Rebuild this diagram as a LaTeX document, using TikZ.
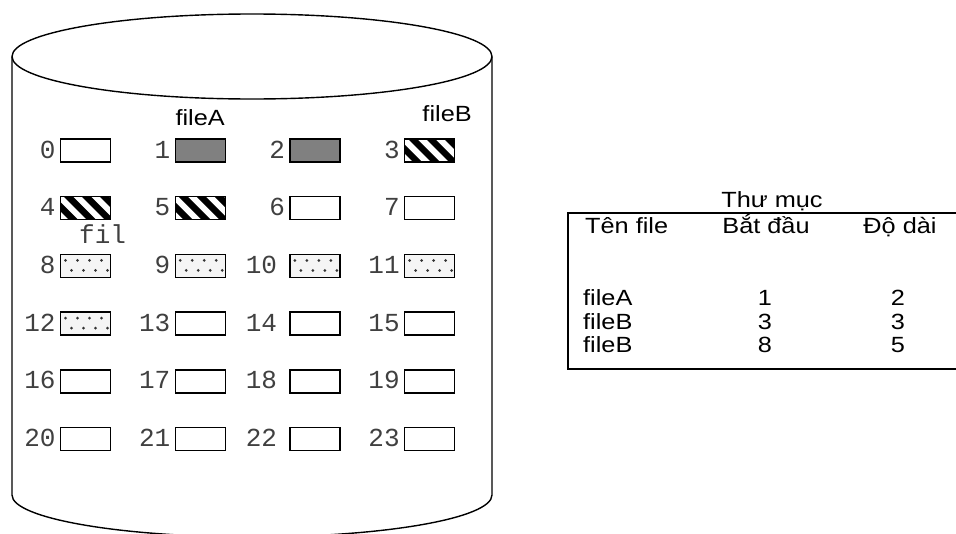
\documentclass[tikz,border=0pt]{standalone}
\usepackage{fontspec}
\newfontfamily\lblfont{Liberation Sans}[FakeStretch=1.15]
\newfontfamily\numfont{Liberation Mono}
\usetikzlibrary{positioning}

\begin{document}
\begin{tikzpicture}[x=1pt, y=1pt,
    rim/.style={line width=1.4pt},
    blk/.style={draw, line width=1.4pt, minimum width=50pt, minimum height=23pt, inner sep=0pt, fill=white},
    free/.style={},
    fileA/.style={fill=black!50},
    fileB/.style={path picture={
        \foreach \k in {-2,...,3}
            \draw[line width=6.5pt] ([xshift=\k*18pt, yshift=8pt]path picture bounding box.north west) -- ++(40pt,-40pt);}},
    fileC/.style={fill=black!4, path picture={
        \foreach \k in {0,...,4} {
            \fill[black!80] ([xshift=5pt+\k*12pt, yshift=-6pt]path picture bounding box.north west) circle (1.5pt);
            \fill[black!80] ([xshift=11pt+\k*12pt, yshift=-16pt]path picture bounding box.north west) circle (1.5pt);
        }}},
    num/.style={font=\numfont\fontsize{26}{28}\selectfont, text=black!75, inner sep=0pt, anchor=base east},
    lbl/.style={font=\lblfont\fontsize{22}{25}\selectfont, inner sep=0pt, anchor=base}
]
\useasboundingbox (0,0) rectangle (956,-533);
\clip (0,0) rectangle (956,-533);

% disk outline
\draw[rim] (252,-56.5) ellipse [x radius=240pt, y radius=42.5pt];
\draw[rim] (12,-56.5) -- (12,-495) arc[start angle=180, end angle=360, x radius=240pt, y radius=42pt] -- (492,-56.5);

% blocks 0..23, 4 per row
\foreach \i/\kind in {0/free,1/fileA,2/fileA,3/fileB,4/fileB,5/fileB,6/free,7/free,
                      8/fileC,9/fileC,10/fileC,11/fileC,12/fileC,13/free,14/free,15/free,
                      16/free,17/free,18/free,19/free,20/free,21/free,22/free,23/free} {
    \pgfmathtruncatemacro{\c}{mod(\i,4)}
    \pgfmathtruncatemacro{\r}{div(\i,4)}
    \pgfmathsetmacro{\x}{85.5+\c*114.7}
    \pgfmathsetmacro{\y}{-150.5-\r*57.7}
    \pgfmathsetmacro{\gap}{(\c==2 && \i>9) ? 12 : 4}
    \node[blk, \kind] (b\i) at (\x,\y) {};
    \node[num] (n\i) at ([xshift=-\gap pt, yshift=-7.5pt]b\i.west) {\i};
}

% file names on the disk
\node[lbl, above=12pt of b1] (fa) {fileA};
\node[lbl, above=16.8pt of b3, xshift=17.5pt] (fb) {fileB};
\node[num, anchor=base west] (fc) at (79,-243) {fil};

% directory table
\node[lbl] (title) at (772,-207) {Thư mục};
\draw[line width=1.6pt] (956,-213) -- (568,-213) -- (568,-369) -- (956,-369);
\node[lbl, anchor=base west] (hname) at (585,-233) {Tên file};
\node[lbl] (hstart) at (766,-233) {Bắt đầu};
\node[lbl] (hlen) at (900,-233) {Độ dài};

\node[lbl, anchor=base west] (r1name) at (583,-305) {fileA};
\node[lbl] (r1start) at (765,-305) {1};
\node[lbl] (r1len) at (898,-305) {2};
\node[lbl, anchor=base west] (r2name) at (583,-329) {fileB};
\node[lbl] (r2start) at (765,-329) {3};
\node[lbl] (r2len) at (898,-329) {3};
\node[lbl, anchor=base west] (r3name) at (583,-352) {fileB};
\node[lbl] (r3start) at (765,-352) {8};
\node[lbl] (r3len) at (898,-352) {5};

\end{tikzpicture}
\end{document}
